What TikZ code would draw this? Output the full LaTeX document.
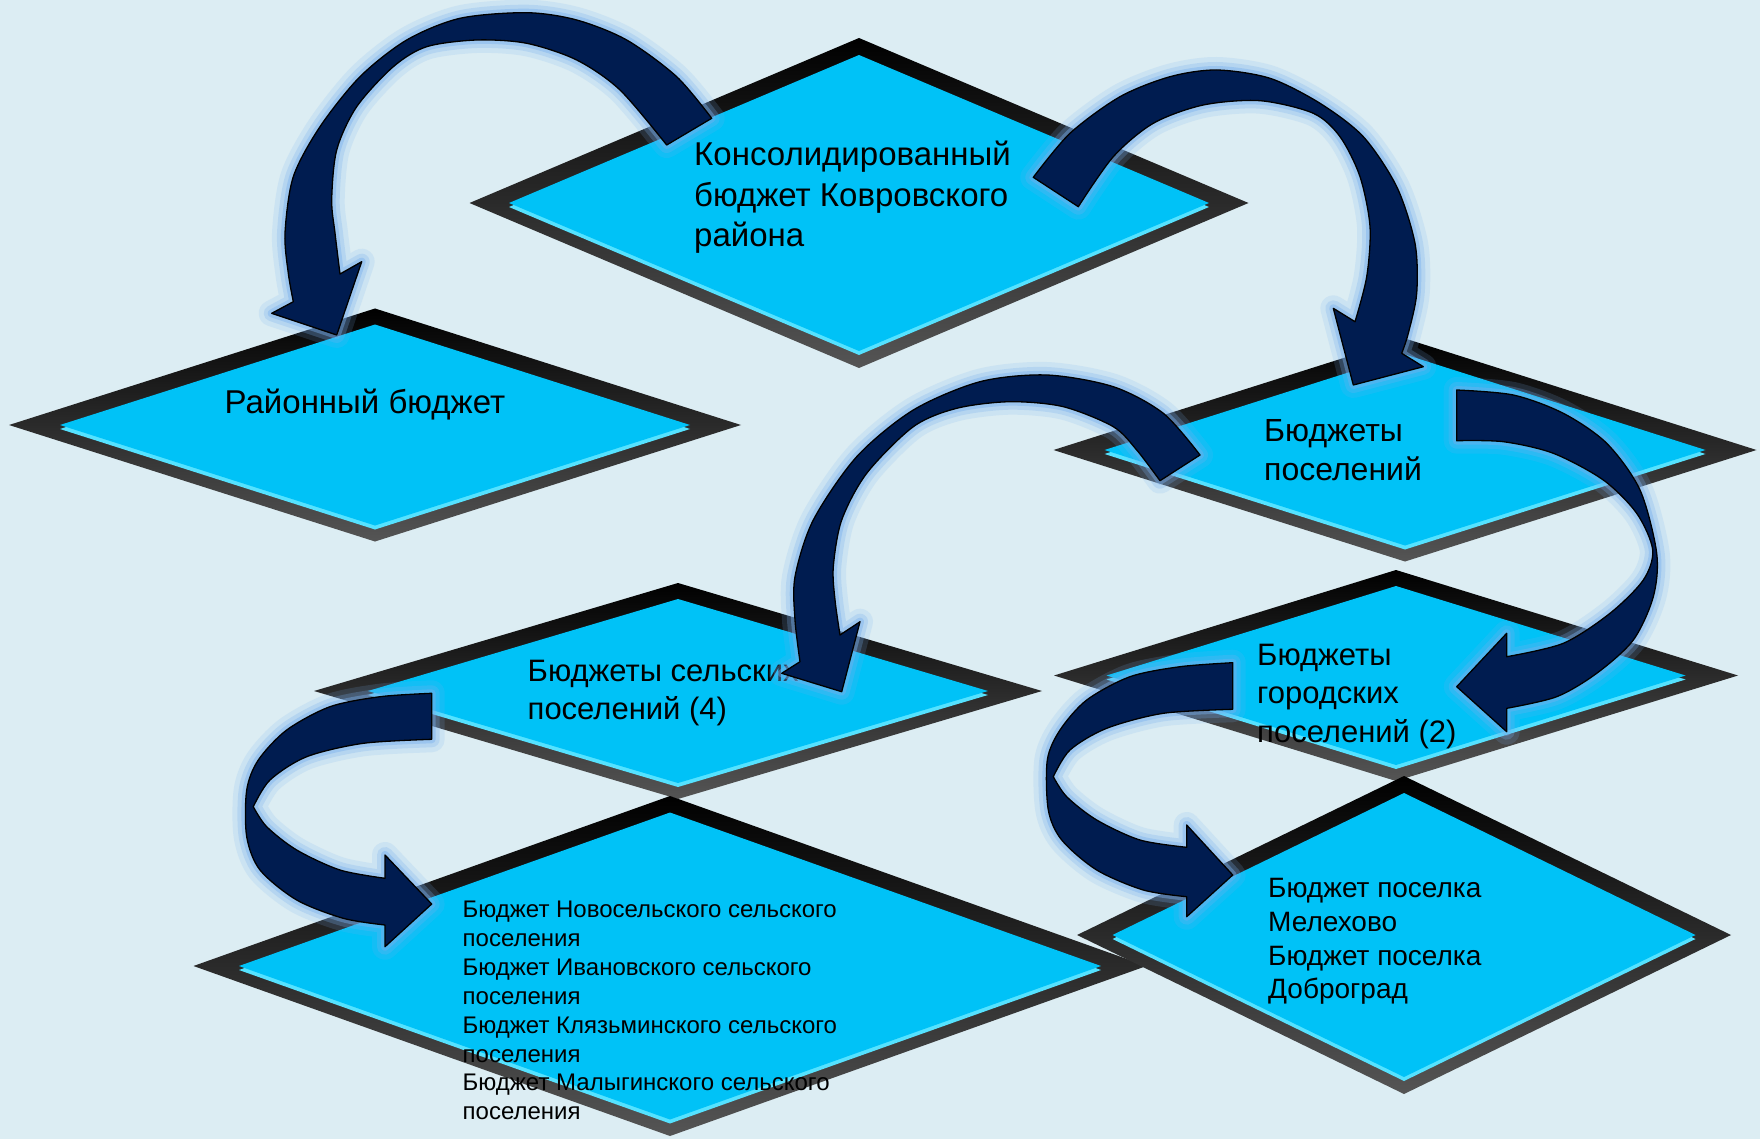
\documentclass[tikz,border=0pt]{standalone}
\usepackage{fontspec}
\setmainfont{Liberation Sans}
\usetikzlibrary{shapes.geometric}

\definecolor{bg}{RGB}{220,237,243}
\definecolor{face}{RGB}{0,194,247}
\definecolor{facelight}{RGB}{85,226,255}
\definecolor{rimgray}{RGB}{85,85,85}
\definecolor{navy}{RGB}{0,28,80}
\definecolor{glow}{RGB}{120,175,238}

\begin{document}
\begin{tikzpicture}[x=1pt, y=-1pt,
    rim/.style={diamond, inner sep=0pt, outer sep=0pt, top color=black, middle color=black, bottom color=rimgray},
    face/.style={diamond, inner sep=0pt, outer sep=0pt, fill=face,
        preaction={fill=facelight, transform canvas={yshift=-4pt}}},
    bigtxt/.style={anchor=west, align=left, inner sep=0pt, font=\fontsize{33}{39}\selectfont},
    bentarrow/.style={fill=navy, draw=black, line width=1.3pt, line join=round,
        preaction={draw=glow, line width=26pt, opacity=0.16, line join=round},
        preaction={draw=glow, line width=16pt, opacity=0.26, line join=round},
        preaction={draw=glow, line width=8pt, opacity=0.42, line join=round}}]
                    \useasboundingbox (0,0) rectangle (1760,1139);
                    \fill[bg] (0,0) rectangle (1760,1139);

                    % CONSOLIDATED BUDGET
                    \node[rim, minimum width=779pt, minimum height=330pt] (kons) at (859,203) {};
                    \node[face, minimum width=700pt, minimum height=296pt] (kons-f) at (kons) {};

                    % DISTRICT
                    \node[rim, minimum width=732pt, minimum height=233pt] (rayon) at (375,425) {};
                    \node[face, minimum width=630pt, minimum height=201pt] (rayon-f) at (rayon) {};

                    % SETTLEMENTS
                    \node[rim, minimum width=703pt, minimum height=223pt] (posel) at (1405,450) {};
                    \node[face, minimum width=601pt, minimum height=191pt] (posel-f) at (posel) {};

                    % RURAL
                    \node[rim, minimum width=728pt, minimum height=216pt] (selsk) at (678,691) {};
                    \node[face, minimum width=620pt, minimum height=184pt] (selsk-f) at (selsk) {};
                    \node[rim, minimum width=953pt, minimum height=340pt] (selsklist) at (670,966) {};
                    \node[face, minimum width=862pt, minimum height=307pt] (selsklist-f) at (selsklist) {};

                    % URBAN
                    \node[rim, minimum width=684pt, minimum height=211pt] (gorod) at (1396,675.5) {};
                    \node[face, minimum width=579pt, minimum height=179pt] (gorod-f) at (gorod) {};
                    \node[rim, minimum width=654pt, minimum height=318pt] (gorodlist) at (1404,935) {};
                    \node[face, minimum width=583pt, minimum height=284pt] (gorodlist-f) at (gorodlist) {};

                    % TEXTS
                    \node[bigtxt, font=\fontsize{33}{40.5}\selectfont] (kons-t) at (694,197.5) {Консолидированный\\бюджет Ковровского\\района};
                    \node[bigtxt] (rayon-t) at (224.5,404.5) {Районный бюджет};
                    \node[bigtxt, font=\fontsize{32}{39}\selectfont] (posel-t) at (1264,450.5) {Бюджеты\\поселений};
                    \node[bigtxt, font=\fontsize{31}{38.5}\selectfont] (selsk-t) at (527.5,693) {Бюджеты сельских\\поселений (4)};
                    \node[bigtxt, font=\fontsize{31}{38.5}\selectfont] (gorod-t) at (1257,696.5) {Бюджеты\\городских\\поселений (2)};
                    \node[bigtxt, font=\fontsize{24}{28.9}\selectfont] (selsklist-t) at (462.5,1010.5) {Бюджет Новосельского сельского\\поселения\\Бюджет Ивановского сельского\\поселения\\Бюджет Клязьминского сельского\\поселения\\Бюджет Малыгинского сельского\\поселения};
                    \node[bigtxt, font=\fontsize{28}{33.7}\selectfont] (gorodlist-t) at (1268,941.5) {Бюджет поселка\\Мелехово\\Бюджет поселка\\Доброград};

                    % ARROWS
                    \path[bentarrow] plot[smooth] coordinates {(711.7,118.3) (676.7,76.7) (626.7,40) (576.7,20) (526.7,12.7) (460,18.3) (406.7,40) (360,76.7) (320,126.7) (293.3,176.7) (285,233.3) (288.3,273.3) (293.3,301.7)}
                        -- (271.7,313.3) -- (336.7,335) -- (361.7,261.7)
                        -- plot[smooth] coordinates {(340,274) (335,233) (331.7,200) (336.7,150) (356.7,106.7) (393.3,66.7) (426.7,46.7) (476.7,40) (526.7,43.3) (576.7,60) (620,90) (666.7,145)}
                        -- cycle;
                    \path[bentarrow] plot[smooth] coordinates {(1033.3,177.3) (1070,133.3) (1120,96.7) (1170,76.7) (1216.7,70) (1270,78.3) (1320,103.3) (1363.3,136.7) (1396.7,186.7) (1415,243.3) (1416.7,293.3) (1408.3,333.3) (1401.7,353.3)}
                        -- (1423.3,366.7) -- (1353.3,385) -- (1333.3,308.3)
                        -- plot[smooth] coordinates {(1355,321.7) (1366.7,276.7) (1370,226.7) (1360,176.7) (1340,136.7) (1313.3,113.3) (1260,100.7) (1203.3,105) (1153.3,123.3) (1113.3,156.7) (1078.3,206.7)}
                        -- cycle;
                    \path[bentarrow] plot[smooth] coordinates {(1200,455) (1163.3,413.3) (1113.3,386.7) (1046.7,375) (980,381.7) (913.3,410) (856.7,456.7) (813.3,520) (795,576.7) (795,620) (800,661.7)}
                        -- (781.7,673.3) -- (841.7,691.7) -- (860,621.7)
                        -- plot[smooth] coordinates {(840,635) (835,600) (833.3,566.7) (841.7,520) (866.7,473.3) (913.3,426.7) (956.7,408.3) (1010,401.7) (1063.3,406.7) (1113.3,426.7) (1136.7,450) (1160,480.7)}
                        -- cycle;
                    \path[bentarrow] plot[smooth] coordinates {(1456.7,390) (1513.3,395) (1563.3,413.3) (1606.7,443.3) (1640,490) (1656.7,553.3) (1653.3,596.7) (1633.3,640) (1596.7,673.3) (1556.7,696.7) (1506.7,708.3)}
                        -- (1506.7,731.7) -- (1456.7,686.7) -- (1506.7,633.3)
                        -- plot[smooth] coordinates {(1506.7,656.7) (1563.3,643.3) (1610,613.3) (1643.3,580) (1652.7,550) (1636.7,513.3) (1603.3,480) (1553.3,453.3) (1503.3,441.7) (1456.7,440.7)}
                        -- cycle;
                    \path[bentarrow] plot[smooth] coordinates {(431.7,693.3) (380,696.7) (330,706.7) (286.7,730) (258.3,760) (246.7,790) (246.7,836.7) (260,870) (296.7,900) (343.3,918.3) (385,925)}
                        -- (385,946.7) -- (431.7,904) -- (385,855)
                        -- plot[smooth] coordinates {(385,878.3) (340,870) (296.7,850) (266.7,826.7) (253.3,806.7)}
                        -- plot[smooth] coordinates {(253.3,806.7) (270,780) (306.7,756.7) (363.3,743.3) (431.7,739.3)}
                        -- cycle;
                    \path[bentarrow] plot[smooth] coordinates {(1232.7,662.7) (1180,666.7) (1130,676.7) (1086.7,700) (1060,730) (1047.3,760) (1048.3,810) (1061.7,840) (1096.7,870) (1143.3,890) (1186.7,896.7)}
                        -- (1186.7,916.7) -- (1232.7,875) -- (1186.7,825)
                        -- plot[smooth] coordinates {(1186.7,847.3) (1140,840) (1096.7,820) (1066.7,796.7) (1053.3,776.7)}
                        -- plot[smooth] coordinates {(1053.3,776.7) (1070,750) (1106.7,728.3) (1163.3,713.3) (1232.7,709.3)}
                        -- cycle;
                \end{tikzpicture}
\end{document}
